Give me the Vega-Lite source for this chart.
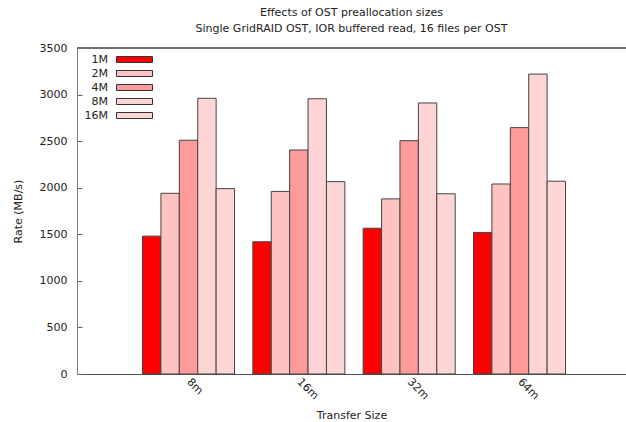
{
  "$schema": "https://vega.github.io/schema/vega-lite/v6.json",
  "width": 549,
  "height": 326,
  "autosize": {"type": "none"},
  "padding": {"left": 77, "top": 48, "right": 0, "bottom": 48},
  "background": "white",
  "title": {
    "text": ["Effects of OST preallocation sizes", "Single GridRAID OST, IOR buffered read, 16 files per OST"],
    "font": "DejaVu Sans",
    "fontSize": 11,
    "fontWeight": "normal",
    "color": "#222222",
    "anchor": "middle",
    "lineHeight": 16,
    "offset": 8
  },
  "config": {
    "view": {"stroke": null},
    "font": "DejaVu Sans",
    "axis": {
      "labelFont": "DejaVu Sans",
      "labelFontSize": 11,
      "labelColor": "#222222",
      "titleFont": "DejaVu Sans",
      "titleFontSize": 11,
      "titleFontWeight": "normal",
      "titleColor": "#222222",
      "grid": false
    }
  },
  "data": {
    "values": [
      {"size": "8m", "block": "1M", "rate": 1480},
      {"size": "8m", "block": "2M", "rate": 1940},
      {"size": "8m", "block": "4M", "rate": 2510},
      {"size": "8m", "block": "8M", "rate": 2960},
      {"size": "8m", "block": "16M", "rate": 1990},
      {"size": "16m", "block": "1M", "rate": 1420},
      {"size": "16m", "block": "2M", "rate": 1960},
      {"size": "16m", "block": "4M", "rate": 2405},
      {"size": "16m", "block": "8M", "rate": 2955},
      {"size": "16m", "block": "16M", "rate": 2065},
      {"size": "32m", "block": "1M", "rate": 1565},
      {"size": "32m", "block": "2M", "rate": 1880},
      {"size": "32m", "block": "4M", "rate": 2505},
      {"size": "32m", "block": "8M", "rate": 2910},
      {"size": "32m", "block": "16M", "rate": 1935},
      {"size": "64m", "block": "1M", "rate": 1520},
      {"size": "64m", "block": "2M", "rate": 2040},
      {"size": "64m", "block": "4M", "rate": 2645},
      {"size": "64m", "block": "8M", "rate": 3220},
      {"size": "64m", "block": "16M", "rate": 2070}
    ]
  },
  "layer": [
    {
      "mark": {"type": "bar", "stroke": "#444444", "strokeWidth": 1, "opacity": 1},
      "encoding": {
        "x": {
          "field": "size",
          "type": "nominal",
          "sort": ["8m", "16m", "32m", "64m"],
          "scale": {"paddingInner": 0.166, "paddingOuter": 0.571, "align": 0.52},
          "axis": {
            "title": "Transfer Size",
            "labelAngle": 45,
            "labelAlign": "left",
            "labelBaseline": "middle",
            "labelPadding": 6,
            "ticks": false,
            "domainColor": "#505050",
            "titlePadding": 8
          }
        },
        "xOffset": {
          "field": "block",
          "type": "nominal",
          "sort": ["1M", "2M", "4M", "8M", "16M"],
          "scale": {"paddingInner": 0, "paddingOuter": 0}
        },
        "y": {
          "field": "rate",
          "type": "quantitative",
          "scale": {"domain": [0, 3500], "nice": false},
          "axis": {
            "title": "Rate (MB/s)",
            "format": "d",
            "values": [0, 500, 1000, 1500, 2000, 2500, 3000, 3500],
            "tickSize": -5,
            "tickColor": "#606060",
            "labelPadding": 15,
            "domainColor": "#808080",
            "titlePadding": 16
          }
        },
        "fill": {
          "field": "block",
          "type": "nominal",
          "sort": ["1M", "2M", "4M", "8M", "16M"],
          "scale": {
            "domain": ["1M", "2M", "4M", "8M", "16M"],
            "range": ["#ff0000", "#ffc2c2", "#ff9a9a", "#ffd4d4", "#ffd6d6"]
          },
          "legend": {
            "title": null,
            "orient": "none",
            "legendX": 52,
            "legendY": 6,
            "padding": 0,
            "direction": "vertical",
            "symbolType": "M-6,-1H6V1H-6Z",
            "symbolSize": 36,
            "symbolStrokeColor": "#333333",
            "symbolStrokeWidth": 1,
            "labelFont": "DejaVu Sans",
            "labelFontSize": 11,
            "labelColor": "#222222",
            "labelAlign": "right",
            "labelOffset": -32,
            "rowPadding": 2
          }
        }
      }
    },
    {
      "mark": {"type": "rule", "color": "#707070", "strokeWidth": 1},
      "encoding": {"y": {"datum": 3500}}
    }
  ]
}
